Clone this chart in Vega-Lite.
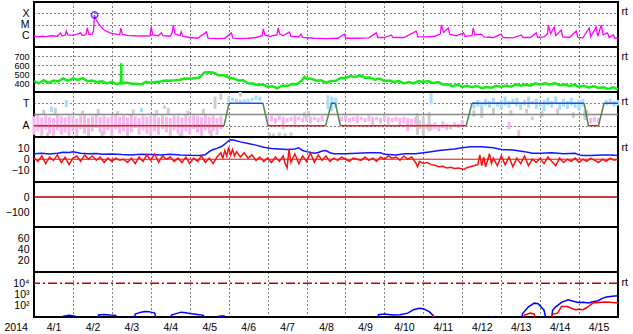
{
"$schema":"https://vega.github.io/schema/vega-lite/v6.json",
"padding":{"left":3,"top":1,"right":0,"bottom":17},
"background":"white",
"spacing":0,
"bounds":"flush",
"datasets":{
"xr":[{"d":0,"v":9.5e-7},{"d":0.1,"v":8e-7},{"d":0.2,"v":9e-7},{"d":0.3,"v":8.5e-7},{"d":0.45,"v":1e-6},{"d":0.6,"v":9e-7},{"d":0.68,"v":1.8e-6},{"d":0.72,"v":1e-6},{"d":0.8,"v":1.1e-6},{"d":0.83,"v":2.6e-6},{"d":0.87,"v":1.2e-6},{"d":1.0,"v":1.1e-6},{"d":1.1,"v":1.3e-6},{"d":1.2,"v":1.8e-6},{"d":1.24,"v":1.1e-6},{"d":1.33,"v":1.2e-6},{"d":1.37,"v":4.9e-6},{"d":1.41,"v":1.3e-6},{"d":1.5,"v":1.4e-6},{"d":1.53,"v":3e-6},{"d":1.55,"v":7e-5},{"d":1.6,"v":2.5e-5},{"d":1.68,"v":9e-6},{"d":1.8,"v":3.2e-6},{"d":1.95,"v":1.8e-6},{"d":2.1,"v":1.4e-6},{"d":2.2,"v":1.2e-6},{"d":2.23,"v":4.9e-6},{"d":2.27,"v":1.3e-6},{"d":2.4,"v":1.1e-6},{"d":2.6,"v":1e-6},{"d":2.8,"v":9.5e-7},{"d":2.98,"v":1e-6},{"d":3.01,"v":6e-6},{"d":3.05,"v":1.2e-6},{"d":3.2,"v":1e-6},{"d":3.27,"v":1.8e-6},{"d":3.31,"v":1e-6},{"d":3.5,"v":9e-7},{"d":3.55,"v":2e-6},{"d":3.58,"v":9e-6},{"d":3.62,"v":1.5e-6},{"d":3.75,"v":1e-6},{"d":3.78,"v":2.2e-6},{"d":3.82,"v":9e-7},{"d":4.0,"v":7e-7},{"d":4.2,"v":6e-7},{"d":4.43,"v":2.2e-6},{"d":4.47,"v":6e-7},{"d":4.7,"v":5.5e-7},{"d":4.9,"v":6e-7},{"d":5.07,"v":1.8e-6},{"d":5.11,"v":6e-7},{"d":5.3,"v":5.5e-7},{"d":5.5,"v":6e-7},{"d":5.7,"v":7e-7},{"d":5.86,"v":1e-6},{"d":5.89,"v":4e-6},{"d":5.93,"v":1.2e-6},{"d":6.05,"v":9e-7},{"d":6.24,"v":1.2e-6},{"d":6.27,"v":4.9e-6},{"d":6.31,"v":1.5e-6},{"d":6.4,"v":1e-6},{"d":6.56,"v":2.2e-6},{"d":6.6,"v":9e-7},{"d":6.8,"v":8e-7},{"d":6.86,"v":1.4e-6},{"d":6.9,"v":7e-7},{"d":7.2,"v":6e-7},{"d":7.5,"v":5.5e-7},{"d":7.8,"v":6e-7},{"d":7.97,"v":1.4e-6},{"d":8.01,"v":6e-7},{"d":8.3,"v":6e-7},{"d":8.6,"v":6.5e-7},{"d":8.79,"v":1.8e-6},{"d":8.83,"v":7e-7},{"d":9.0,"v":7e-7},{"d":9.18,"v":1.17e-6},{"d":9.22,"v":7e-7},{"d":9.5,"v":7e-7},{"d":9.82,"v":2.6e-6},{"d":9.86,"v":8e-7},{"d":10.1,"v":8e-7},{"d":10.3,"v":9e-7},{"d":10.44,"v":1.5e-6},{"d":10.46,"v":9e-6},{"d":10.52,"v":2e-6},{"d":10.64,"v":4.9e-6},{"d":10.68,"v":1.3e-6},{"d":10.85,"v":1e-6},{"d":11.03,"v":1.8e-6},{"d":11.07,"v":9e-7},{"d":11.25,"v":1e-6},{"d":11.28,"v":4.9e-6},{"d":11.32,"v":1.2e-6},{"d":11.49,"v":1.4e-6},{"d":11.55,"v":8e-7},{"d":11.8,"v":7e-7},{"d":12.0,"v":1.4e-6},{"d":12.05,"v":7e-7},{"d":12.3,"v":6.5e-7},{"d":12.52,"v":1.17e-6},{"d":12.56,"v":7e-7},{"d":12.75,"v":7e-7},{"d":12.9,"v":1.8e-6},{"d":12.94,"v":7e-7},{"d":13.1,"v":8e-7},{"d":13.19,"v":1.5e-6},{"d":13.21,"v":9e-6},{"d":13.27,"v":1.5e-6},{"d":13.36,"v":6e-6},{"d":13.4,"v":1e-6},{"d":13.54,"v":3.2e-6},{"d":13.58,"v":8e-7},{"d":13.75,"v":7e-7},{"d":13.93,"v":2.6e-6},{"d":13.97,"v":7e-7},{"d":14.1,"v":6.5e-7},{"d":14.26,"v":4.9e-6},{"d":14.3,"v":8e-7},{"d":14.44,"v":6e-6},{"d":14.48,"v":9e-7},{"d":14.57,"v":9e-6},{"d":14.62,"v":1.2e-6},{"d":14.73,"v":1.8e-6},{"d":14.77,"v":7e-7},{"d":14.88,"v":1.17e-6},{"d":14.92,"v":6e-7},{"d":15.0,"v":6e-7}],
"fl":[{"d":1.555,"v":7e-5}],
"sw":[{"d":0,"v":420},{"d":0.125,"v":395},{"d":0.25,"v":430},{"d":0.375,"v":402},{"d":0.5,"v":426},{"d":0.625,"v":418},{"d":0.75,"v":450},{"d":0.875,"v":424},{"d":1.0,"v":452},{"d":1.125,"v":434},{"d":1.25,"v":454},{"d":1.375,"v":420},{"d":1.5,"v":427},{"d":1.625,"v":410},{"d":1.75,"v":420},{"d":1.875,"v":396},{"d":2.0,"v":413},{"d":2.125,"v":388},{"d":2.23,"v":400},{"d":2.24,"v":620},{"d":2.25,"v":396},{"d":2.375,"v":404},{"d":2.5,"v":392},{"d":2.625,"v":392},{"d":2.75,"v":383},{"d":2.875,"v":412},{"d":3.0,"v":404},{"d":3.125,"v":411},{"d":3.25,"v":416},{"d":3.375,"v":427},{"d":3.5,"v":425},{"d":3.625,"v":430},{"d":3.75,"v":437},{"d":3.875,"v":450},{"d":4.0,"v":446},{"d":4.125,"v":454},{"d":4.25,"v":460},{"d":4.375,"v":517},{"d":4.5,"v":519},{"d":4.625,"v":514},{"d":4.75,"v":483},{"d":4.875,"v":488},{"d":5.0,"v":460},{"d":5.125,"v":451},{"d":5.25,"v":428},{"d":5.375,"v":430},{"d":5.5,"v":395},{"d":5.625,"v":394},{"d":5.75,"v":377},{"d":5.875,"v":382},{"d":6.0,"v":359},{"d":6.125,"v":363},{"d":6.25,"v":340},{"d":6.375,"v":372},{"d":6.5,"v":366},{"d":6.625,"v":389},{"d":6.75,"v":386},{"d":6.875,"v":425},{"d":6.95,"v":468},{"d":7.0,"v":447},{"d":7.125,"v":446},{"d":7.25,"v":426},{"d":7.375,"v":430},{"d":7.5,"v":402},{"d":7.625,"v":422},{"d":7.75,"v":424},{"d":7.875,"v":455},{"d":8.0,"v":456},{"d":8.125,"v":478},{"d":8.25,"v":468},{"d":8.375,"v":484},{"d":8.5,"v":459},{"d":8.625,"v":462},{"d":8.75,"v":436},{"d":8.875,"v":450},{"d":9.0,"v":422},{"d":9.125,"v":428},{"d":9.25,"v":411},{"d":9.375,"v":422},{"d":9.5,"v":395},{"d":9.625,"v":410},{"d":9.75,"v":396},{"d":9.875,"v":422},{"d":10.0,"v":412},{"d":10.125,"v":422},{"d":10.25,"v":398},{"d":10.375,"v":410},{"d":10.5,"v":384},{"d":10.625,"v":386},{"d":10.75,"v":364},{"d":10.875,"v":380},{"d":11.0,"v":357},{"d":11.125,"v":368},{"d":11.25,"v":354},{"d":11.375,"v":367},{"d":11.5,"v":342},{"d":11.625,"v":356},{"d":11.75,"v":348},{"d":11.875,"v":369},{"d":12.0,"v":356},{"d":12.125,"v":373},{"d":12.25,"v":358},{"d":12.375,"v":384},{"d":12.5,"v":369},{"d":12.625,"v":382},{"d":12.75,"v":370},{"d":12.875,"v":397},{"d":13.0,"v":384},{"d":13.125,"v":396},{"d":13.25,"v":384},{"d":13.375,"v":398},{"d":13.5,"v":375},{"d":13.625,"v":382},{"d":13.75,"v":367},{"d":13.875,"v":380},{"d":14.0,"v":359},{"d":14.125,"v":370},{"d":14.25,"v":348},{"d":14.375,"v":366},{"d":14.5,"v":344},{"d":14.625,"v":352},{"d":14.75,"v":333},{"d":14.875,"v":352},{"d":15.0,"v":332}],
"ph":[{"d":0.0,"a":-1.8,"b":-0.15,"c":"p"},{"d":0.1,"a":-1.5,"b":-0.05,"c":"p"},{"d":0.2,"a":-1.9,"b":-0.25,"c":"p"},{"d":0.3,"a":-1.3,"b":-0.1,"c":"p"},{"d":0.4,"a":-1.7,"b":-0.2,"c":"p"},{"d":0.5,"a":-1.9,"b":-0.3,"c":"p"},{"d":0.6,"a":-1.4,"b":-0.05,"c":"p"},{"d":0.7,"a":-1.8,"b":-0.15,"c":"p"},{"d":0.8,"a":-1.6,"b":-0.25,"c":"p"},{"d":0.9,"a":-1.9,"b":-0.1,"c":"p"},{"d":1.0,"a":-1.5,"b":-0.2,"c":"p"},{"d":1.1,"a":-2,"b":-0.35,"c":"p"},{"d":1.2,"a":-1.3,"b":-0.1,"c":"p"},{"d":1.3,"a":-1.7,"b":-0.05,"c":"p"},{"d":1.4,"a":-1.9,"b":-0.3,"c":"p"},{"d":1.5,"a":-1.5,"b":-0.15,"c":"p"},{"d":1.6,"a":-1.2,"b":-0.05,"c":"p"},{"d":1.7,"a":-1.6,"b":-0.2,"c":"p"},{"d":1.8,"a":-1.8,"b":-0.1,"c":"p"},{"d":1.9,"a":-1.4,"b":-0.25,"c":"p"},{"d":2.0,"a":-1.9,"b":-0.15,"c":"p"},{"d":2.1,"a":-1.3,"b":-0.05,"c":"p"},{"d":2.2,"a":-1.7,"b":-0.2,"c":"p"},{"d":2.3,"a":-1.5,"b":-0.1,"c":"p"},{"d":2.4,"a":-1.9,"b":-0.25,"c":"p"},{"d":2.5,"a":-1.6,"b":-0.05,"c":"p"},{"d":2.6,"a":-1.2,"b":-0.15,"c":"p"},{"d":2.7,"a":-1.8,"b":-0.3,"c":"p"},{"d":2.8,"a":-1.4,"b":-0.1,"c":"p"},{"d":2.9,"a":-1.7,"b":-0.2,"c":"p"},{"d":3.0,"a":-2,"b":-0.15,"c":"p"},{"d":3.1,"a":-1.5,"b":-0.05,"c":"p"},{"d":3.2,"a":-1.8,"b":-0.25,"c":"p"},{"d":3.3,"a":-1.3,"b":-0.1,"c":"p"},{"d":3.4,"a":-1.6,"b":-0.2,"c":"p"},{"d":3.5,"a":-1.9,"b":-0.3,"c":"p"},{"d":3.6,"a":-1.4,"b":-0.1,"c":"p"},{"d":3.7,"a":-1.7,"b":-0.15,"c":"p"},{"d":3.8,"a":-2,"b":-0.25,"c":"p"},{"d":3.9,"a":-1.5,"b":-0.05,"c":"p"},{"d":4.0,"a":-1.8,"b":-0.2,"c":"p"},{"d":4.1,"a":-1.3,"b":-0.1,"c":"p"},{"d":4.2,"a":-1.6,"b":-0.15,"c":"p"},{"d":4.3,"a":-1.9,"b":-0.25,"c":"p"},{"d":4.4,"a":-1.4,"b":-0.05,"c":"p"},{"d":4.5,"a":-1.7,"b":-0.2,"c":"p"},{"d":4.6,"a":-1.5,"b":-0.1,"c":"p"},{"d":4.7,"a":-1.8,"b":-0.3,"c":"p"},{"d":4.8,"a":-1.3,"b":-0.15,"c":"p"},
{"d":6.0,"a":-0.7,"b":-0.2,"c":"p"},{"d":6.1,"a":-0.6,"b":-0.1,"c":"p"},{"d":6.2,"a":-0.8,"b":-0.3,"c":"p"},{"d":6.3,"a":-0.5,"b":-0.1,"c":"p"},{"d":6.4,"a":-1.3,"b":-0.2,"c":"p"},{"d":6.5,"a":-0.7,"b":-0.3,"c":"p"},{"d":6.6,"a":-0.6,"b":-0.2,"c":"p"},{"d":6.7,"a":-0.9,"b":-0.1,"c":"p"},{"d":6.8,"a":-0.5,"b":-0.2,"c":"p"},{"d":6.9,"a":-0.7,"b":-0.3,"c":"p"},{"d":7.0,"a":-0.6,"b":-0.1,"c":"p"},{"d":7.1,"a":-0.8,"b":-0.2,"c":"p"},{"d":7.2,"a":-0.5,"b":-0.2,"c":"p"},{"d":7.3,"a":-0.7,"b":-0.3,"c":"p"},{"d":7.4,"a":-0.6,"b":-0.1,"c":"p"},
{"d":7.9,"a":-0.6,"b":-0.2,"c":"p"},{"d":8.0,"a":-0.5,"b":-0.1,"c":"p"},{"d":8.1,"a":-0.7,"b":-0.3,"c":"p"},{"d":8.2,"a":-0.6,"b":-0.2,"c":"p"},{"d":8.3,"a":-0.8,"b":-0.1,"c":"p"},{"d":8.4,"a":-0.5,"b":-0.2,"c":"p"},{"d":8.5,"a":-0.7,"b":-0.3,"c":"p"},{"d":8.6,"a":-0.6,"b":-0.1,"c":"p"},{"d":8.7,"a":-0.9,"b":-0.2,"c":"p"},{"d":8.8,"a":-0.5,"b":-0.2,"c":"p"},{"d":8.9,"a":-0.8,"b":-0.3,"c":"p"},{"d":9.0,"a":-0.6,"b":-0.1,"c":"p"},{"d":9.1,"a":-0.9,"b":-0.2,"c":"p"},{"d":9.2,"a":-0.7,"b":-0.3,"c":"p"},{"d":9.3,"a":-0.6,"b":-0.2,"c":"p"},{"d":9.4,"a":-1.0,"b":-0.3,"c":"p"},{"d":9.5,"a":-0.8,"b":-0.2,"c":"p"},{"d":9.6,"a":-1.5,"b":-0.3,"c":"p"},{"d":9.7,"a":-1.1,"b":-0.4,"c":"p"},{"d":9.8,"a":-0.9,"b":-0.2,"c":"p"},{"d":9.9,"a":-1.3,"b":-0.5,"c":"p"},{"d":10.0,"a":-1.4,"b":-0.7,"c":"p"},{"d":10.1,"a":-1.3,"b":-0.8,"c":"p"},{"d":10.2,"a":-1.4,"b":-0.8,"c":"p"},{"d":10.3,"a":-1.3,"b":-0.7,"c":"p"},{"d":10.4,"a":-1.5,"b":-0.9,"c":"p"},{"d":10.5,"a":-1.2,"b":-0.6,"c":"p"},{"d":10.6,"a":-1.4,"b":-0.8,"c":"p"},{"d":10.7,"a":-1.3,"b":-0.9,"c":"p"},{"d":10.8,"a":-1.1,"b":-0.7,"c":"p"},{"d":10.9,"a":-1.2,"b":-0.8,"c":"p"},{"d":11.0,"a":-1.0,"b":-0.5,"c":"p"},
{"d":12.2,"a":-1.3,"b":-0.6,"c":"p"},{"d":12.45,"a":-1.9,"b":-1.4,"c":"p"},{"d":12.8,"a":-0.5,"b":-0.2,"c":"p"},{"d":14.3,"a":-0.8,"b":-0.3,"c":"p"},{"d":14.4,"a":-0.7,"b":-0.2,"c":"p"},{"d":14.5,"a":-0.75,"b":-0.3,"c":"p"},
{"d":0.45,"a":0.2,"b":0.7,"c":"b"},{"d":0.83,"a":0.65,"b":1.3,"c":"b"},{"d":2.76,"a":0.2,"b":0.6,"c":"b"},{"d":3.35,"a":0.5,"b":0.8,"c":"b"},
{"d":5.0,"a":1.1,"b":1.6,"c":"b"},{"d":5.1,"a":1.2,"b":1.5,"c":"b"},{"d":5.2,"a":1.1,"b":1.4,"c":"b"},{"d":5.3,"a":1.0,"b":1.3,"c":"b"},{"d":5.4,"a":1.05,"b":1.35,"c":"b"},{"d":5.5,"a":1.1,"b":1.4,"c":"b"},{"d":5.6,"a":1.2,"b":1.5,"c":"b"},{"d":5.7,"a":1.3,"b":1.7,"c":"b"},{"d":5.8,"a":1.2,"b":1.6,"c":"b"},
{"d":7.55,"a":0.5,"b":1.7,"c":"b"},{"d":7.65,"a":0.3,"b":1.6,"c":"b"},{"d":7.75,"a":0.6,"b":1.5,"c":"b"},{"d":10.2,"a":0.9,"b":1.9,"c":"b"},
{"d":11.3,"a":0.5,"b":1.1,"c":"b"},{"d":11.4,"a":0.7,"b":1.3,"c":"b"},{"d":11.5,"a":0.4,"b":1.0,"c":"b"},{"d":11.6,"a":0.8,"b":1.4,"c":"b"},{"d":11.7,"a":0.6,"b":1.2,"c":"b"},{"d":11.8,"a":0.9,"b":1.5,"c":"b"},{"d":11.9,"a":0.7,"b":1.1,"c":"b"},{"d":12.0,"a":0.5,"b":1.3,"c":"b"},{"d":12.1,"a":0.8,"b":1.6,"c":"b"},{"d":12.2,"a":0.6,"b":1.2,"c":"b"},{"d":12.3,"a":0.9,"b":1.4,"c":"b"},{"d":12.4,"a":0.7,"b":1.5,"c":"b"},{"d":12.5,"a":0.4,"b":1.1,"c":"b"},{"d":12.6,"a":0.8,"b":1.3,"c":"b"},{"d":12.7,"a":0.6,"b":1.6,"c":"b"},{"d":12.8,"a":0.9,"b":1.2,"c":"b"},{"d":12.9,"a":0.5,"b":1.4,"c":"b"},{"d":13.0,"a":0.7,"b":1.1,"c":"b"},{"d":13.1,"a":0.3,"b":1.3,"c":"b"},{"d":13.2,"a":0.8,"b":1.5,"c":"b"},{"d":13.3,"a":0.6,"b":1.2,"c":"b"},{"d":13.4,"a":0.9,"b":1.6,"c":"b"},{"d":13.5,"a":0.4,"b":1.1,"c":"b"},{"d":13.6,"a":0.7,"b":1.4,"c":"b"},{"d":13.7,"a":0.5,"b":1.2,"c":"b"},{"d":13.8,"a":0.8,"b":1.5,"c":"b"},{"d":13.9,"a":0.6,"b":1.1,"c":"b"},{"d":14.0,"a":0.3,"b":1.3,"c":"b"},{"d":14.1,"a":0.7,"b":1.4,"c":"b"},{"d":14.7,"a":0.8,"b":1.3,"c":"b"},{"d":14.8,"a":0.9,"b":1.4,"c":"b"},{"d":14.9,"a":0.7,"b":1.2,"c":"b"},{"d":15.0,"a":0.8,"b":1.3,"c":"b"},
{"d":0.25,"a":0.05,"b":0.4,"c":"g"},{"d":0.55,"a":0.05,"b":0.6,"c":"g"},{"d":1.25,"a":0.05,"b":0.35,"c":"g"},{"d":1.65,"a":0.05,"b":0.5,"c":"g"},{"d":2.15,"a":0.05,"b":0.3,"c":"g"},{"d":2.55,"a":0.05,"b":0.45,"c":"g"},{"d":3.15,"a":0.05,"b":0.4,"c":"g"},{"d":3.45,"a":0.05,"b":0.6,"c":"g"},{"d":3.95,"a":0.05,"b":0.35,"c":"g"},{"d":4.35,"a":0.05,"b":0.5,"c":"g"},{"d":4.65,"a":0.5,"b":1.6,"c":"g"},{"d":4.8,"a":1.3,"b":1.9,"c":"g"},{"d":0.35,"a":-2,"b":-1.6,"c":"g"},{"d":1.75,"a":-2,"b":-1.5,"c":"g"},{"d":3.75,"a":-2,"b":-1.7,"c":"g"},{"d":4.55,"a":-2,"b":-1.4,"c":"g"},{"d":5.3,"a":1.6,"b":2,"c":"g"},{"d":6.05,"a":-2,"b":-1.6,"c":"g"},{"d":6.15,"a":-2,"b":-1.7,"c":"g"},{"d":6.3,"a":-2,"b":-1.6,"c":"g"},{"d":6.45,"a":-2,"b":-1.7,"c":"g"},{"d":6.6,"a":-1.9,"b":-1.6,"c":"g"},{"d":6.95,"a":-0.3,"b":0.2,"c":"g"},{"d":7.05,"a":-0.2,"b":0.3,"c":"g"},{"d":9.85,"a":-1.8,"b":0.1,"c":"g"},{"d":10.0,"a":-1.9,"b":-0.2,"c":"g"},{"d":10.15,"a":-1.5,"b":0.2,"c":"g"},{"d":11.3,"a":-0.2,"b":0.4,"c":"g"},{"d":11.5,"a":-0.3,"b":0.5,"c":"g"},{"d":11.8,"a":0.0,"b":0.6,"c":"g"},{"d":12.25,"a":-0.1,"b":0.4,"c":"g"},{"d":12.65,"a":0.1,"b":0.5,"c":"g"},{"d":13.05,"a":-0.2,"b":0.3,"c":"g"},{"d":13.45,"a":0.0,"b":0.5,"c":"g"},{"d":13.85,"a":-0.3,"b":0.2,"c":"g"},{"d":14.15,"a":-0.5,"b":0.4,"c":"g"},{"d":14.2,"a":-0.2,"b":0.4,"c":"g"}],
"sec":[{"g":1,"c":"A","d":0,"s":-1},{"g":1,"c":"A","d":4.88,"s":-1},{"g":2,"c":"X","d":4.88,"s":-1},{"g":2,"c":"X","d":5.01,"s":1},{"g":3,"c":"T","d":5.01,"s":1},{"g":3,"c":"T","d":5.88,"s":1},{"g":4,"c":"X","d":5.88,"s":1},{"g":4,"c":"X","d":6.01,"s":-1},{"g":5,"c":"A","d":6.01,"s":-1},{"g":5,"c":"A","d":7.49,"s":-1},{"g":6,"c":"X","d":7.49,"s":-1},{"g":6,"c":"X","d":7.64,"s":1},{"g":7,"c":"T","d":7.64,"s":1},{"g":7,"c":"T","d":7.74,"s":1},{"g":8,"c":"X","d":7.74,"s":1},{"g":8,"c":"X","d":7.87,"s":-1},{"g":9,"c":"A","d":7.87,"s":-1},{"g":9,"c":"A","d":11.1,"s":-1},{"g":10,"c":"X","d":11.1,"s":-1},{"g":10,"c":"X","d":11.25,"s":1},{"g":11,"c":"T","d":11.25,"s":1},{"g":11,"c":"T","d":14.13,"s":1},{"g":12,"c":"X","d":14.13,"s":1},{"g":12,"c":"X","d":14.24,"s":-1},{"g":13,"c":"A","d":14.24,"s":-1},{"g":13,"c":"A","d":14.5,"s":-1},{"g":14,"c":"X","d":14.5,"s":-1},{"g":14,"c":"X","d":14.64,"s":1},{"g":15,"c":"T","d":14.64,"s":1},{"g":15,"c":"T","d":15,"s":1}],
"bt":[{"d":0,"v":5},{"d":0.2,"v":5.5},{"d":0.4,"v":4.8},{"d":0.6,"v":5.6},{"d":0.75,"v":6.5},{"d":0.9,"v":6.2},{"d":1.0,"v":6.8},{"d":1.2,"v":5.5},{"d":1.4,"v":5},{"d":1.6,"v":5.3},{"d":1.75,"v":4.5},{"d":2.0,"v":4.8},{"d":2.25,"v":4.3},{"d":2.5,"v":4.0},{"d":2.75,"v":4.6},{"d":3.0,"v":4.4},{"d":3.25,"v":4.0},{"d":3.5,"v":4.6},{"d":3.75,"v":4.0},{"d":4.0,"v":3.6},{"d":4.25,"v":3.4},{"d":4.4,"v":4.2},{"d":4.5,"v":7},{"d":4.6,"v":9},{"d":4.7,"v":10},{"d":4.8,"v":11.5},{"d":4.9,"v":14},{"d":5.0,"v":17},{"d":5.05,"v":18},{"d":5.15,"v":17.5},{"d":5.3,"v":16},{"d":5.5,"v":14.5},{"d":5.7,"v":13},{"d":5.9,"v":11},{"d":6.1,"v":10},{"d":6.3,"v":9.5},{"d":6.5,"v":9},{"d":6.7,"v":9.5},{"d":6.8,"v":10.5},{"d":6.9,"v":8},{"d":7.0,"v":7},{"d":7.2,"v":5.5},{"d":7.3,"v":6.2},{"d":7.4,"v":7.5},{"d":7.5,"v":8},{"d":7.6,"v":6},{"d":7.7,"v":5},{"d":8.0,"v":5},{"d":8.3,"v":5.5},{"d":8.6,"v":6},{"d":8.9,"v":6},{"d":9.0,"v":4.5},{"d":9.3,"v":4},{"d":9.5,"v":5},{"d":9.8,"v":5},{"d":10.0,"v":6},{"d":10.2,"v":7},{"d":10.4,"v":8},{"d":10.6,"v":8.8},{"d":10.8,"v":9.5},{"d":11.0,"v":10.5},{"d":11.2,"v":11.5},{"d":11.5,"v":11.5},{"d":11.8,"v":10.5},{"d":12.0,"v":9},{"d":12.3,"v":8.5},{"d":12.6,"v":7},{"d":12.8,"v":5.5},{"d":13.0,"v":5.5},{"d":13.3,"v":6},{"d":13.6,"v":5},{"d":13.9,"v":5.5},{"d":14.0,"v":4},{"d":14.1,"v":3.5},{"d":14.3,"v":3.5},{"d":14.6,"v":3.8},{"d":14.8,"v":4},{"d":15,"v":3.5}],
"bz":[{"d":0.0,"v":1},{"d":0.1,"v":-2},{"d":0.2,"v":3},{"d":0.3,"v":-4},{"d":0.4,"v":2},{"d":0.5,"v":-1},{"d":0.6,"v":4},{"d":0.7,"v":-3},{"d":0.8,"v":2},{"d":0.9,"v":-5},{"d":1.0,"v":1},{"d":1.1,"v":3},{"d":1.2,"v":-2},{"d":1.3,"v":4},{"d":1.4,"v":0},{"d":1.5,"v":3},{"d":1.6,"v":-1},{"d":1.7,"v":2},{"d":1.8,"v":-3},{"d":1.9,"v":1},{"d":2.0,"v":-2},{"d":2.1,"v":1},{"d":2.2,"v":-1},{"d":2.3,"v":0},{"d":2.4,"v":-3},{"d":2.5,"v":1},{"d":2.6,"v":-4},{"d":2.7,"v":2},{"d":2.8,"v":-2},{"d":2.9,"v":4},{"d":3.0,"v":-1},{"d":3.1,"v":5},{"d":3.2,"v":-3},{"d":3.3,"v":3},{"d":3.4,"v":0},{"d":3.5,"v":2},{"d":3.6,"v":-2},{"d":3.7,"v":1},{"d":3.8,"v":-3},{"d":3.9,"v":2},{"d":4.0,"v":-4},{"d":4.1,"v":1},{"d":4.2,"v":-2},{"d":4.3,"v":3},{"d":4.4,"v":-3},{"d":4.5,"v":1},{"d":4.6,"v":-4},{"d":4.7,"v":2},{"d":4.8,"v":6},{"d":4.85,"v":1},{"d":4.9,"v":8},{"d":4.95,"v":3},{"d":5.0,"v":11},{"d":5.05,"v":4},{"d":5.1,"v":9},{"d":5.15,"v":3},{"d":5.2,"v":7},{"d":5.3,"v":2},{"d":5.4,"v":6},{"d":5.5,"v":1},{"d":5.6,"v":4},{"d":5.7,"v":-1},{"d":5.8,"v":2},{"d":5.9,"v":-2},{"d":6.0,"v":1},{"d":6.1,"v":-3},{"d":6.2,"v":2},{"d":6.3,"v":-2},{"d":6.4,"v":3},{"d":6.45,"v":-4},{"d":6.5,"v":-8},{"d":6.55,"v":9},{"d":6.6,"v":-3},{"d":6.7,"v":5},{"d":6.8,"v":-4},{"d":6.9,"v":3},{"d":7.0,"v":-2},{"d":7.1,"v":6},{"d":7.2,"v":-3},{"d":7.3,"v":4},{"d":7.4,"v":-1},{"d":7.5,"v":3},{"d":7.6,"v":-2},{"d":7.7,"v":1},{"d":7.8,"v":-1},{"d":7.9,"v":2},{"d":8.0,"v":0},{"d":8.1,"v":-2},{"d":8.2,"v":1},{"d":8.3,"v":0},{"d":8.4,"v":-1},{"d":8.5,"v":2},{"d":8.6,"v":-1},{"d":8.7,"v":1},{"d":8.8,"v":-2},{"d":8.9,"v":2},{"d":9.0,"v":0},{"d":9.1,"v":3},{"d":9.2,"v":1},{"d":9.3,"v":2},{"d":9.4,"v":-1},{"d":9.5,"v":3},{"d":9.6,"v":0},{"d":9.7,"v":2},{"d":9.8,"v":-3},{"d":9.85,"v":-7},{"d":9.9,"v":-2},{"d":10.0,"v":-4},{"d":10.1,"v":-3},{"d":10.2,"v":-5},{"d":10.3,"v":-5.5},{"d":10.4,"v":-7},{"d":10.5,"v":-6.5},{"d":10.6,"v":-8},{"d":10.7,"v":-7.5},{"d":10.8,"v":-8.5},{"d":10.9,"v":-8},{"d":11.0,"v":-9},{"d":11.05,"v":-9.5},{"d":11.1,"v":-8},{"d":11.2,"v":-7},{"d":11.3,"v":-6},{"d":11.4,"v":-5},{"d":11.45,"v":4},{"d":11.5,"v":-6},{"d":11.55,"v":2},{"d":11.6,"v":-7},{"d":11.7,"v":5},{"d":11.75,"v":-4},{"d":11.8,"v":1},{"d":11.9,"v":-6},{"d":12.0,"v":3},{"d":12.1,"v":-5},{"d":12.2,"v":2},{"d":12.3,"v":-7},{"d":12.4,"v":1},{"d":12.5,"v":-4},{"d":12.6,"v":3},{"d":12.7,"v":-6},{"d":12.8,"v":0},{"d":12.9,"v":-3},{"d":13.0,"v":1},{"d":13.1,"v":-4},{"d":13.2,"v":2},{"d":13.3,"v":-2},{"d":13.4,"v":-6},{"d":13.5,"v":1},{"d":13.6,"v":-3},{"d":13.7,"v":0},{"d":13.8,"v":-2},{"d":13.9,"v":1},{"d":14.0,"v":-3},{"d":14.1,"v":0},{"d":14.2,"v":-2},{"d":14.3,"v":1},{"d":14.4,"v":-1},{"d":14.5,"v":-3},{"d":14.6,"v":0},{"d":14.7,"v":-2},{"d":14.8,"v":1},{"d":14.9,"v":-1},{"d":15.0,"v":0}],
"pb":[{"d":0,"v":3},{"d":0.73,"v":3},{"d":0.76,"v":12},{"d":0.9,"v":14},{"d":1.05,"v":12},{"d":1.1,"v":3},{"d":1.63,"v":3},{"d":1.66,"v":15},{"d":1.8,"v":17},{"d":1.95,"v":15},{"d":2.1,"v":14},{"d":2.13,"v":3},{"d":2.56,"v":3},{"d":2.6,"v":18},{"d":2.75,"v":27},{"d":2.85,"v":31},{"d":2.95,"v":30},{"d":3.1,"v":22},{"d":3.16,"v":3},{"d":3.5,"v":3},{"d":3.53,"v":15},{"d":3.65,"v":20},{"d":3.78,"v":27},{"d":3.9,"v":24},{"d":4.05,"v":19},{"d":4.2,"v":17},{"d":4.35,"v":14},{"d":4.4,"v":3},{"d":4.72,"v":3},{"d":4.75,"v":12},{"d":4.88,"v":13},{"d":4.9,"v":3},{"d":8.82,"v":3},{"d":8.85,"v":16},{"d":9.0,"v":18},{"d":9.2,"v":15},{"d":9.4,"v":16},{"d":9.6,"v":22},{"d":9.75,"v":45},{"d":9.9,"v":60},{"d":10.0,"v":55},{"d":10.15,"v":30},{"d":10.25,"v":14},{"d":10.28,"v":3},{"d":11.72,"v":3},{"d":11.74,"v":12},{"d":11.78,"v":3},{"d":12.5,"v":3},{"d":12.55,"v":20},{"d":12.7,"v":80},{"d":12.85,"v":170},{"d":12.95,"v":150},{"d":13.1,"v":40},{"d":13.17,"v":3},{"d":13.28,"v":3},{"d":13.32,"v":40},{"d":13.4,"v":80},{"d":13.55,"v":200},{"d":13.72,"v":340},{"d":13.85,"v":250},{"d":13.98,"v":196},{"d":14.1,"v":200},{"d":14.24,"v":175},{"d":14.35,"v":230},{"d":14.49,"v":277},{"d":14.6,"v":450},{"d":14.7,"v":600},{"d":14.85,"v":700},{"d":15,"v":770}],
"pr":[{"d":0,"v":3},{"d":10.2,"v":3},{"d":10.25,"v":12},{"d":10.3,"v":3},{"d":12.5,"v":3},{"d":12.6,"v":15},{"d":12.75,"v":22},{"d":12.85,"v":18},{"d":12.9,"v":3},{"d":13.28,"v":3},{"d":13.32,"v":18},{"d":13.45,"v":22},{"d":13.55,"v":86},{"d":13.7,"v":86},{"d":13.8,"v":60},{"d":13.9,"v":44},{"d":14.0,"v":50},{"d":14.1,"v":44},{"d":14.2,"v":70},{"d":14.24,"v":86},{"d":14.35,"v":174},{"d":14.5,"v":190},{"d":14.65,"v":212},{"d":14.8,"v":200},{"d":15,"v":174}]
},
"vconcat":[
{"height":45,"width":584,
 "layer":[
  {"data":{"name":"xr"},"mark":{"type":"line","color":"#ff00ff","strokeWidth":1.3,"clip":true},
   "encoding":{"x":{"field":"d","type":"quantitative","scale":{"domain":[0,15],"nice":false,"zero":false},"axis":{"values":[0,1,2,3,4,5,6,7,8,9,10,11,12,13,14,15],"labels":false,"grid":true,"title":null}},
    "y":{"field":"v","type":"quantitative","scale":{"type":"log","domain":[1e-7,1e-3],"nice":false},"axis":{"values":[1e-6,1e-5,1e-4],"title":null,"labelExpr":"datum.value > 5e-5 ? 'X' : datum.value > 5e-6 ? 'M' : 'C'","gridOpacity":{"condition":{"test":"datum.value < 5e-6","value":0},"value":1}}}}},
  {"data":{"name":"fl"},"mark":{"type":"point","shape":"circle","filled":false,"color":"#0000ff","size":40,"strokeWidth":1.5},
   "encoding":{"x":{"field":"d","type":"quantitative","axis":{"values":[0,1,2,3,4,5,6,7,8,9,10,11,12,13,14,15],"labels":false,"grid":true,"title":null}},
    "y":{"field":"v","type":"quantitative","axis":{"orient":"right","title":"rt","titleAngle":0,"titleAlign":"left","titleBaseline":"middle","titleX":3,"titleY":9,"labels":false,"grid":false}}}}
 ],
 "resolve":{"axis":{"y":"independent"}}
},
{"height":45,"width":584,
 "layer":[
  {"data":{"name":"sw"},"mark":{"type":"line","color":"#11ee11","strokeWidth":2.5,"clip":true},
   "encoding":{"x":{"field":"d","type":"quantitative","scale":{"domain":[0,15],"nice":false,"zero":false},"axis":{"values":[0,1,2,3,4,5,6,7,8,9,10,11,12,13,14,15],"labels":false,"grid":true,"title":null}},
    "y":{"field":"v","type":"quantitative","scale":{"domain":[300,800],"nice":false,"zero":false},"axis":{"values":[400,500,600,700],"title":null,"labelFontSize":9}}}},
  {"data":{"values":[{}]},"mark":{"type":"rule","strokeOpacity":0},
   "encoding":{"y":{"datum":300,"type":"quantitative","axis":{"orient":"right","title":"rt","titleAngle":0,"titleAlign":"left","titleBaseline":"middle","titleX":3,"titleY":9,"labels":false,"grid":false}}}}
 ],
 "resolve":{"axis":{"y":"independent"}}
},
{"height":45,"width":584,
 "layer":[
  {"data":{"name":"ph"},"mark":{"type":"rule","strokeWidth":3},
   "encoding":{"x":{"field":"d","type":"quantitative","scale":{"domain":[0,15],"nice":false,"zero":false},"axis":{"values":[0,1,2,3,4,5,6,7,8,9,10,11,12,13,14,15],"labels":false,"grid":true,"title":null}},
    "y":{"field":"a","type":"quantitative","scale":{"domain":[-2,2],"nice":false,"zero":false},"axis":{"values":[-1,1],"title":null,"labelExpr":"datum.value > 0 ? 'T' : 'A'"}},
    "y2":{"field":"b"},
    "color":{"field":"c","type":"nominal","scale":{"domain":["p","b","g"],"range":["#f7b6ee","#a8def7","#cdcdcd"]},"legend":null}}},
  {"data":{"values":[{}]},"mark":{"type":"rule","color":"#888888","strokeWidth":1.5},
   "encoding":{"y":{"datum":0,"type":"quantitative","axis":{"orient":"right","title":"rt","titleAngle":0,"titleAlign":"left","titleBaseline":"middle","titleX":3,"titleY":9,"labels":false,"grid":false}}}},
  {"data":{"name":"sec"},"mark":{"type":"line","strokeWidth":1.5},
   "encoding":{"x":{"field":"d","type":"quantitative","axis":{"values":[0,1,2,3,4,5,6,7,8,9,10,11,12,13,14,15],"labels":false,"grid":true,"title":null}},"y":{"field":"s","type":"quantitative","axis":null},"detail":{"field":"g"},
    "color":{"field":"c","type":"nominal","scale":{"domain":["A","T","X"],"range":["#e02020","#2a4ae8","#4f8a4f"]},"legend":null}}}
 ],
 "resolve":{"axis":{"y":"independent"},"scale":{"color":"independent"}}
},
{"height":45,"width":584,
 "layer":[
  {"data":{"values":[{}]},"mark":{"type":"rule","color":"#ff0000","strokeWidth":1},
   "encoding":{"y":{"datum":0,"type":"quantitative","axis":{"orient":"right","title":"rt","titleAngle":0,"titleAlign":"left","titleBaseline":"middle","titleX":3,"titleY":10,"labels":false,"grid":false}}}},
  {"data":{"name":"bt"},"mark":{"type":"line","color":"#1515ff","strokeWidth":1.5,"clip":true},
   "encoding":{"x":{"field":"d","type":"quantitative","scale":{"domain":[0,15],"nice":false,"zero":false},"axis":{"values":[0,1,2,3,4,5,6,7,8,9,10,11,12,13,14,15],"labels":false,"grid":true,"title":null}},
    "y":{"field":"v","type":"quantitative","scale":{"domain":[-21,20.5],"nice":false,"zero":false},"axis":{"values":[-10,0,10],"title":null,"gridOpacity":{"condition":{"test":"datum.value == 0","value":0},"value":1}}}}},
  {"data":{"name":"bz"},"mark":{"type":"line","color":"#ff1010","strokeWidth":1.5,"clip":true},
   "encoding":{"x":{"field":"d","type":"quantitative","axis":{"values":[0,1,2,3,4,5,6,7,8,9,10,11,12,13,14,15],"labels":false,"grid":true,"title":null}},"y":{"field":"v","type":"quantitative","axis":null}}}
 ],
 "resolve":{"axis":{"y":"independent"}}
},
{"height":45,"width":584,
 "data":{"values":[{}]},
 "mark":{"type":"rule","color":"#b00000","strokeWidth":1.5},
 "encoding":{"x":{"datum":0,"type":"quantitative","scale":{"domain":[0,15],"nice":false,"zero":false},"axis":{"values":[0,1,2,3,4,5,6,7,8,9,10,11,12,13,14,15],"labels":false,"grid":true,"title":null}},
  "x2":{"datum":15},
  "y":{"datum":0,"type":"quantitative","scale":{"domain":[-200,100],"nice":false,"zero":false},"axis":{"values":[-100,0],"title":null}}}
},
{"height":45,"width":584,
 "data":{"values":[{}]},
 "mark":{"type":"rule","color":"#000000","strokeWidth":1},
 "encoding":{"x":{"datum":0,"type":"quantitative","scale":{"domain":[0,15],"nice":false,"zero":false},"axis":{"values":[0,1,2,3,4,5,6,7,8,9,10,11,12,13,14,15],"labels":false,"grid":true,"title":null}},
  "x2":{"datum":15},
  "y":{"datum":0,"type":"quantitative","scale":{"domain":[0,80],"nice":false,"zero":false},"axis":{"values":[20,40,60],"title":null}}}
},
{"height":45,"width":584,
 "layer":[
  {"data":{"values":[{}]},"mark":{"type":"rule","color":"#c00000","strokeWidth":1.5,"strokeDash":[9,3,2,3]},
   "encoding":{"y":{"datum":10000,"type":"quantitative","axis":{"orient":"right","title":"rt","titleAngle":0,"titleAlign":"left","titleBaseline":"middle","titleX":3,"titleY":10,"labels":false,"grid":false}}}},
  {"data":{"name":"pb"},"mark":{"type":"line","color":"#0000ff","strokeWidth":1.5,"clip":true},
   "encoding":{"x":{"field":"d","type":"quantitative","scale":{"domain":[0,15],"nice":false,"zero":false},"axis":{"values":[0,1,2,3,4,5,6,7,8,9,10,11,12,13,14,15],"grid":true,"labels":true,"labelExpr":"datum.value < 15 ? '4/' + (datum.value + 1) : ''","labelOffset":19.5,"labelFlush":false,"labelOverlap":false,"labelBound":false,"labelAlign":"center","labelPadding":5,"title":"2014","titleX":-30,"titleY":5,"titleAlign":"left","titleBaseline":"top"}},
    "y":{"field":"v","type":"quantitative","scale":{"type":"log","domain":[10,100000],"nice":false},"axis":{"values":[100,1000,10000],"title":null,"labelExpr":"datum.value > 5000 ? '10⁴' : datum.value > 500 ? '10³' : '10²'"}}}},
  {"data":{"name":"pr"},"mark":{"type":"line","color":"#ff0000","strokeWidth":1.5,"clip":true},
   "encoding":{"x":{"field":"d","type":"quantitative","axis":{"values":[0,1,2,3,4,5,6,7,8,9,10,11,12,13,14,15],"grid":true,"labels":true,"labelExpr":"datum.value < 15 ? '4/' + (datum.value + 1) : ''","labelOffset":19.5,"labelFlush":false,"labelOverlap":false,"labelBound":false,"labelAlign":"center","labelPadding":5,"title":"2014","titleX":-30,"titleY":5,"titleAlign":"left","titleBaseline":"top"}},"y":{"field":"v","type":"quantitative","axis":null}}}
 ],
 "resolve":{"axis":{"y":"independent"}}
}
],
"config":{
 "font":"Liberation Sans",
 "view":{"stroke":"#000000","strokeWidth":2},
 "axis":{"domain":false,"ticks":false,"gridColor":"#000000","gridDash":[1,3],"gridOpacity":1,"gridWidth":1,"labelFont":"Liberation Sans","labelFontSize":10.5,"labelColor":"#000000","labelPadding":5,"labelOverlap":false,"titleFont":"Liberation Sans","titleFontSize":10.5,"titleFontWeight":"normal","titleColor":"#000000"},
 "axisLeft":{"minExtent":30,"maxExtent":30},
 "axisRight":{"minExtent":0,"maxExtent":14}
}
}
